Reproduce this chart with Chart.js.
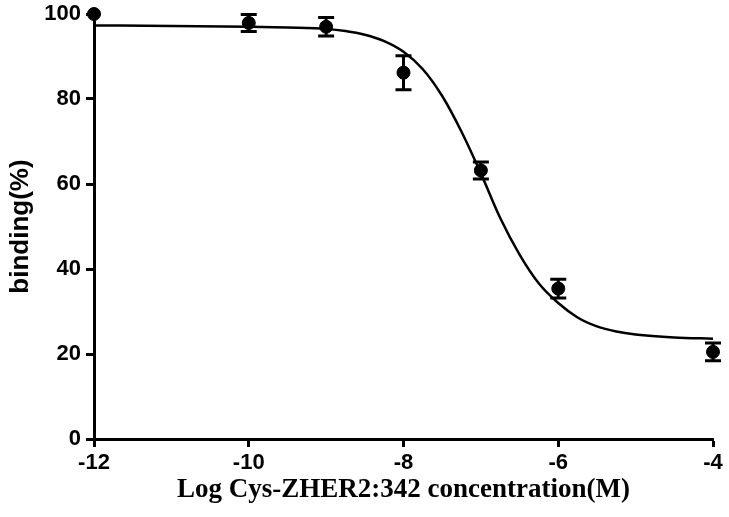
<!DOCTYPE html>
<html>
<head>
<meta charset="utf-8">
<style>
  html, body { margin: 0; padding: 0; background: #fff; }
  #wrap { width: 729px; height: 517px; }
</style>
<script src="https://cdn.jsdelivr.net/npm/chart.js@4/dist/chart.umd.min.js"></script>
</head>
<body>
<div id="wrap"><canvas id="chart" width="729" height="517"></canvas></div>
<script>
const logConc = [-12, -10, -9, -8, -7, -6, -4];
const binding = [100, 97.9, 97.0, 86.2, 63.2, 35.4, 20.5];
const bindingSd = [0, 2.0, 2.2, 4.0, 2.0, 2.2, 2.1];

// Curva ajustada, puntos leídos a lo largo de la línea.
const fitX = [-12, -11, -10, -9.5, -9, -8.75, -8.5, -8.25, -8, -7.75, -7.5, -7.25, -7, -6.75, -6.5, -6.25, -6, -5.75, -5.5, -5.25, -5, -4.5, -4];
const fitY = [97.3, 97.2, 97.0, 96.8, 96.5, 96.0, 95.1, 93.6, 91.1, 87.0, 80.7, 72.3, 62.5, 52.0, 43.4, 36.6, 32.0, 28.6, 26.5, 25.3, 24.6, 23.9, 23.6];

const xTicks = [-12, -10, -8, -6, -4];
const yTicks = [0, 20, 40, 60, 80, 100];

const sansBold = { family: "'Liberation Sans', Arial, sans-serif", size: 22, weight: "bold" };

// Barras de error verticales con sus topes.
const errorBars = {
  id: "errorBars",
  afterDatasetsDraw(chart) {
    const { ctx, scales } = chart;
    ctx.save();
    ctx.strokeStyle = "#000";
    ctx.lineWidth = 3;
    logConc.forEach((x, i) => {
      const sd = bindingSd[i];
      if (!sd) return;
      const px = scales.x.getPixelForValue(x);
      const top = scales.y.getPixelForValue(binding[i] + sd);
      const bottom = scales.y.getPixelForValue(binding[i] - sd);
      ctx.beginPath();
      ctx.moveTo(px, top);
      ctx.lineTo(px, bottom);
      ctx.moveTo(px - 8, top);
      ctx.lineTo(px + 8, top);
      ctx.moveTo(px - 8, bottom);
      ctx.lineTo(px + 8, bottom);
      ctx.stroke();
    });
    ctx.restore();
  }
};

Chart.defaults.color = "#000";

new Chart(document.getElementById("chart").getContext("2d"), {
  type: "scatter",
  data: {
    datasets: [
      {
        label: "fit",
        data: fitX.map((x, i) => ({ x, y: fitY[i] })),
        showLine: true,
        borderColor: "#000",
        borderWidth: 2.5,
        pointRadius: 0,
        cubicInterpolationMode: "monotone",
        clip: false
      },
      {
        label: "binding",
        data: logConc.map((x, i) => ({ x, y: binding[i] })),
        backgroundColor: "#000",
        borderColor: "#000",
        pointRadius: 6.5,
        pointHoverRadius: 6.5,
        clip: false
      }
    ]
  },
  options: {
    responsive: false,
    animation: false,
    events: [],
    layout: { padding: { top: 14, right: 16, left: 0, bottom: 0 } },
    plugins: {
      legend: { display: false },
      tooltip: { enabled: false }
    },
    scales: {
      x: {
        type: "linear",
        min: -12,
        max: -4,
        afterFit(scale) {
          scale.height = 78;
          scale.paddingLeft = 0;
          scale.paddingRight = 0;
        },
        afterBuildTicks(scale) { scale.ticks = xTicks.map((v) => ({ value: v })); },
        border: { color: "#000", width: 3 },
        grid: { drawOnChartArea: false, drawTicks: true, tickLength: 8, tickColor: "#000", tickWidth: 3 },
        ticks: { font: sansBold, padding: 3, maxRotation: 0 },
        title: {
          display: true,
          text: "Log Cys-ZHER2:342 concentration(M)",
          font: { family: "'Liberation Serif', 'Times New Roman', serif", size: 27, weight: "bold" },
          padding: { top: 0, bottom: 11 }
        }
      },
      y: {
        type: "linear",
        min: 0,
        max: 100,
        afterFit(scale) {
          scale.width = 94;
          scale.paddingTop = 0;
          scale.paddingBottom = 0;
        },
        afterBuildTicks(scale) { scale.ticks = yTicks.map((v) => ({ value: v })); },
        border: { color: "#000", width: 3 },
        grid: { drawOnChartArea: false, drawTicks: true, tickLength: 8, tickColor: "#000", tickWidth: 3 },
        ticks: { font: sansBold, padding: 5 },
        title: {
          display: true,
          text: "binding(%)",
          font: { family: "'Liberation Sans', Arial, sans-serif", size: 26, weight: "bold" },
          padding: { top: 5, bottom: 0 }
        }
      }
    }
  },
  plugins: [errorBars]
});
</script>
</body>
</html>
